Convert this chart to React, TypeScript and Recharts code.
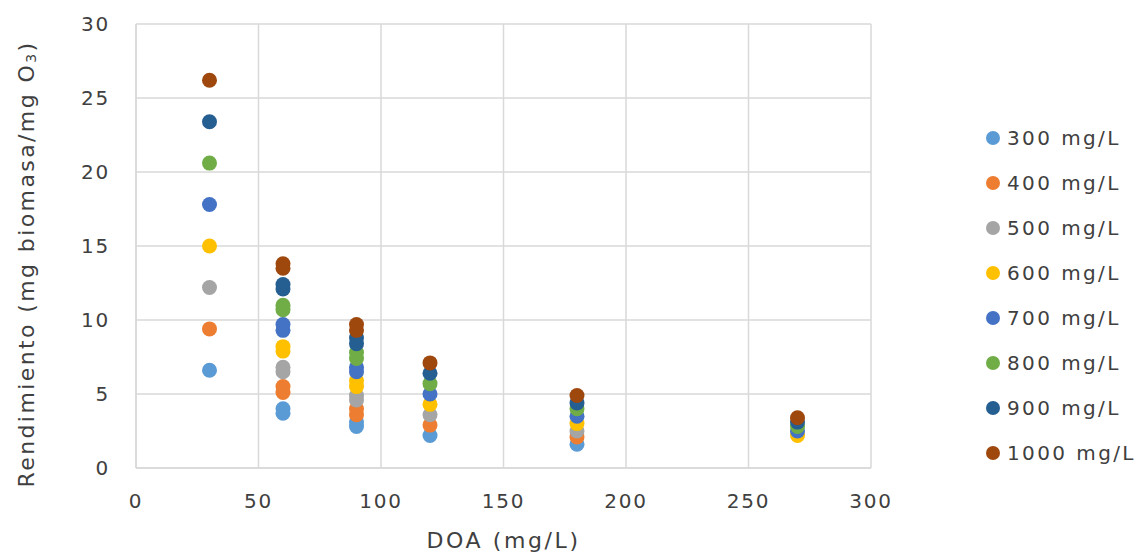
import React from 'react';
import {
  ScatterChart,
  Scatter,
  XAxis,
  YAxis,
  CartesianGrid,
  Legend,
  Label,
} from 'recharts';

// DOA (mg/L) for each measurement row
const doa = [30, 60, 60, 90, 90, 120, 180, 270];

// Rendimiento (mg biomasa/mg O3) per ozone dose, aligned with doa
const s300 = [6.6, 4.0, 3.7, 3.1, 2.8, 2.2, 1.6, null];
const s400 = [9.4, 5.5, 5.1, 4.0, 3.6, 2.9, 2.1, null];
const s500 = [12.2, 6.8, 6.5, 4.9, 4.6, 3.6, 2.5, null];
const s600 = [15.0, 8.2, 7.9, 5.9, 5.5, 4.3, 3.0, 2.2];
const s700 = [17.8, 9.7, 9.3, 6.8, 6.5, 5.0, 3.5, 2.5];
const s800 = [20.6, 11.0, 10.7, 7.8, 7.4, 5.7, 4.0, 2.8];
const s900 = [23.4, 12.4, 12.1, 8.8, 8.4, 6.4, 4.4, 3.1];
const s1000 = [26.2, 13.8, 13.5, 9.7, 9.3, 7.1, 4.9, 3.4];

const seriesNames = ['300 mg/L', '400 mg/L', '500 mg/L', '600 mg/L', '700 mg/L', '800 mg/L', '900 mg/L', '1000 mg/L'];
const seriesValues = [s300, s400, s500, s600, s700, s800, s900, s1000];
const seriesColors = ['#5B9BD5', '#ED7D31', '#A5A5A5', '#FFC000', '#4472C4', '#70AD47', '#255E91', '#9E480E'];

const xTicks = [0, 50, 100, 150, 200, 250, 300];
const yTicks = [0, 5, 10, 15, 20, 25, 30];

const FONT = '"DejaVu Sans", sans-serif';
const TEXT = '#404040';

const toPoints = (vals: (number | null)[]) =>
  doa
    .map((x, i) => ({ x, y: vals[i] }))
    .filter((p) => p.y !== null);

const Dot = (color: string) => (props: any) => (
  <circle cx={props.cx} cy={props.cy} r={7.5} fill={color} />
);

const YTitle = (props: any) => {
  const { viewBox } = props;
  const cx = 26;
  const cy = viewBox.y + viewBox.height / 2 + 18;
  return (
    <text
      x={cx}
      y={cy}
      transform={`rotate(-90, ${cx}, ${cy})`}
      textAnchor="middle"
      dominantBaseline="central"
      fontFamily={FONT}
      fontSize={22}
      letterSpacing={2.4}
      fill={TEXT}
    >
      Rendimiento (mg biomasa/mg O
      <tspan fontSize={14} dy={5}>3</tspan>
      <tspan dy={-5}>)</tspan>
    </text>
  );
};

const LegendContent = () => (
  <div style={{ fontFamily: FONT, fontSize: 20, letterSpacing: 2.4, color: TEXT }}>
    {seriesNames.map((name, i) => (
      <div key={name} style={{ display: 'flex', alignItems: 'center', height: 44.9 }}>
        <svg width={16} height={16} style={{ marginRight: 6 }}>
          <circle cx={8} cy={8} r={7} fill={seriesColors[i]} />
        </svg>
        <span>{name}</span>
      </div>
    ))}
  </div>
);

export default function App() {
  return (
    <div style={{ position: 'absolute', left: 0, top: 0, background: '#fff' }}>
      <ScatterChart width={1140} height={552} margin={{ top: 24, right: 109, bottom: 0, left: 0 }}>
        <CartesianGrid stroke="#d9d9d9" strokeWidth={1.5} />
        <XAxis
          type="number"
          dataKey="x"
          domain={[0, 300]}
          ticks={xTicks}
          height={84}
          tickLine={false}
          axisLine={{ stroke: '#d9d9d9', strokeWidth: 1.5 }}
          tick={{ fill: TEXT, fontSize: 20, fontFamily: FONT, letterSpacing: 1.8 }}
          tickMargin={20}
        >
          <Label
            value="DOA (mg/L)"
            position="insideBottom"
            offset={4}
            fill={TEXT}
            fontSize={22}
            letterSpacing={2.6}
            fontFamily={FONT}
          />
        </XAxis>
        <YAxis
          type="number"
          dataKey="y"
          domain={[0, 30]}
          ticks={yTicks}
          width={136}
          tickLine={false}
          axisLine={{ stroke: '#d9d9d9', strokeWidth: 1.5 }}
          tick={{ fill: TEXT, fontSize: 20, fontFamily: FONT, letterSpacing: 1.8 }}
          tickMargin={20}
        >
          <Label content={<YTitle />} />
        </YAxis>
        <Legend
          layout="vertical"
          align="right"
          verticalAlign="top"
          content={<LegendContent />}
          wrapperStyle={{ left: 985, top: 116, width: 160 }}
        />
        {seriesValues.map((vals, i) => (
          <Scatter
            key={seriesNames[i]}
            name={seriesNames[i]}
            data={toPoints(vals)}
            fill={seriesColors[i]}
            shape={Dot(seriesColors[i])}
            isAnimationActive={false}
          />
        ))}
      </ScatterChart>
    </div>
  );
}
